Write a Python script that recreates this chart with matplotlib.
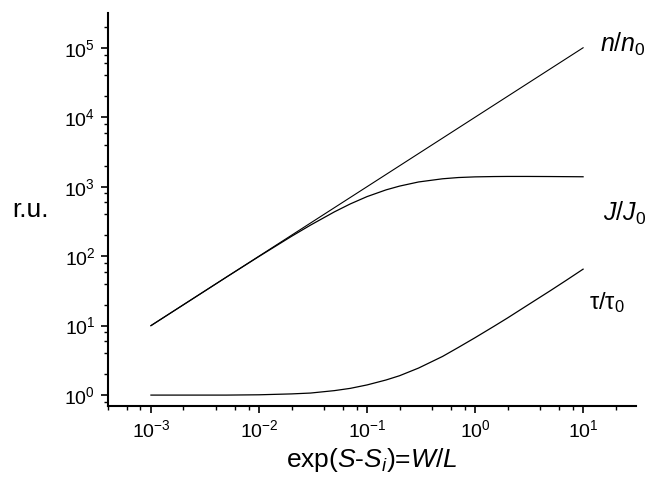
import numpy as np
import matplotlib
matplotlib.use("Agg")
import matplotlib.pyplot as plt
from matplotlib.ticker import LogLocator, NullFormatter

plt.rcParams['font.family'] = ['Liberation Sans', 'DejaVu Sans']
plt.rcParams['mathtext.fontset'] = 'custom'
plt.rcParams['mathtext.rm'] = 'Liberation Sans'
plt.rcParams['mathtext.it'] = 'Liberation Sans:italic'
plt.rcParams['mathtext.bf'] = 'Liberation Sans:bold'

# valores
x_n = [1e-3, 1e-2, 1e-1, 1, 10]
n_n0 = [10, 100, 1000, 1e4, 1e5]

x_c = [1e-3, 2e-3, 5e-3, 1e-2, 2e-2, 3e-2, 5e-2, 7e-2, 0.1, 0.15, 0.2, 0.3,
       0.5, 0.7, 1, 1.5, 2, 3, 5, 7, 10]
J_J0 = [10, 20, 50, 99, 193, 280, 435, 565, 720, 900, 1020, 1170,
        1300, 1355, 1385, 1400, 1405, 1405, 1400, 1395, 1390]
tau_tau0 = [1.0, 1.0, 1.0, 1.01, 1.04, 1.07, 1.16, 1.25, 1.4, 1.65, 1.9, 2.45,
            3.6, 4.85, 6.7, 9.8, 12.9, 19.3, 32, 45, 65]

H = 483  # altura em pixels, para posicionar os rotulos

fig = plt.figure(figsize=(6.53, 4.83), dpi=100)
ax = fig.add_axes([0.165, 0.159, 0.809, 0.814])

ax.plot(x_n, n_n0, color='black', lw=0.8)
ax.plot(x_c, J_J0, color='black', lw=0.9)
ax.plot(x_c, tau_tau0, color='black', lw=0.9)

ax.set_xscale('log')
ax.set_yscale('log')
ax.set_xlim(10**-3.4, 10**1.49)
ax.set_ylim(10**-0.16, 10**5.5)

for sp in ['top', 'right']:
    ax.spines[sp].set_visible(False)
ax.spines['left'].set_linewidth(1.5)
ax.spines['bottom'].set_linewidth(1.5)

for eixo in [ax.xaxis, ax.yaxis]:
    eixo.set_major_locator(LogLocator(base=10, numticks=20))
    eixo.set_minor_locator(LogLocator(base=10, subs=[2, 4, 6, 8], numticks=20))
    eixo.set_minor_formatter(NullFormatter())
ax.tick_params(which='major', direction='out', length=5, width=1.2, labelsize=14, pad=4)
ax.tick_params(which='minor', direction='out', length=3, width=1.0)

ax.text(-0.18, 0.5, 'r.u.', transform=ax.transAxes, fontsize=19, va='center', ha='left')
ax.set_xlabel(r'exp($S$-$S_i$)=$W/L$', fontsize=19, labelpad=4)

ax.annotate(r'$n/n_0$', xy=(600, H - 44), xycoords='figure pixels',
            fontsize=18, ha='left', va='center')
ax.annotate(r'$J/J_0$', xy=(603, H - 213), xycoords='figure pixels',
            fontsize=18, ha='left', va='center')
ax.annotate(r'$\mathrm{\tau/\tau_0}$', xy=(589, H - 303), xycoords='figure pixels',
            fontsize=17, ha='left', va='center')

plt.savefig('out.png', dpi=100)
